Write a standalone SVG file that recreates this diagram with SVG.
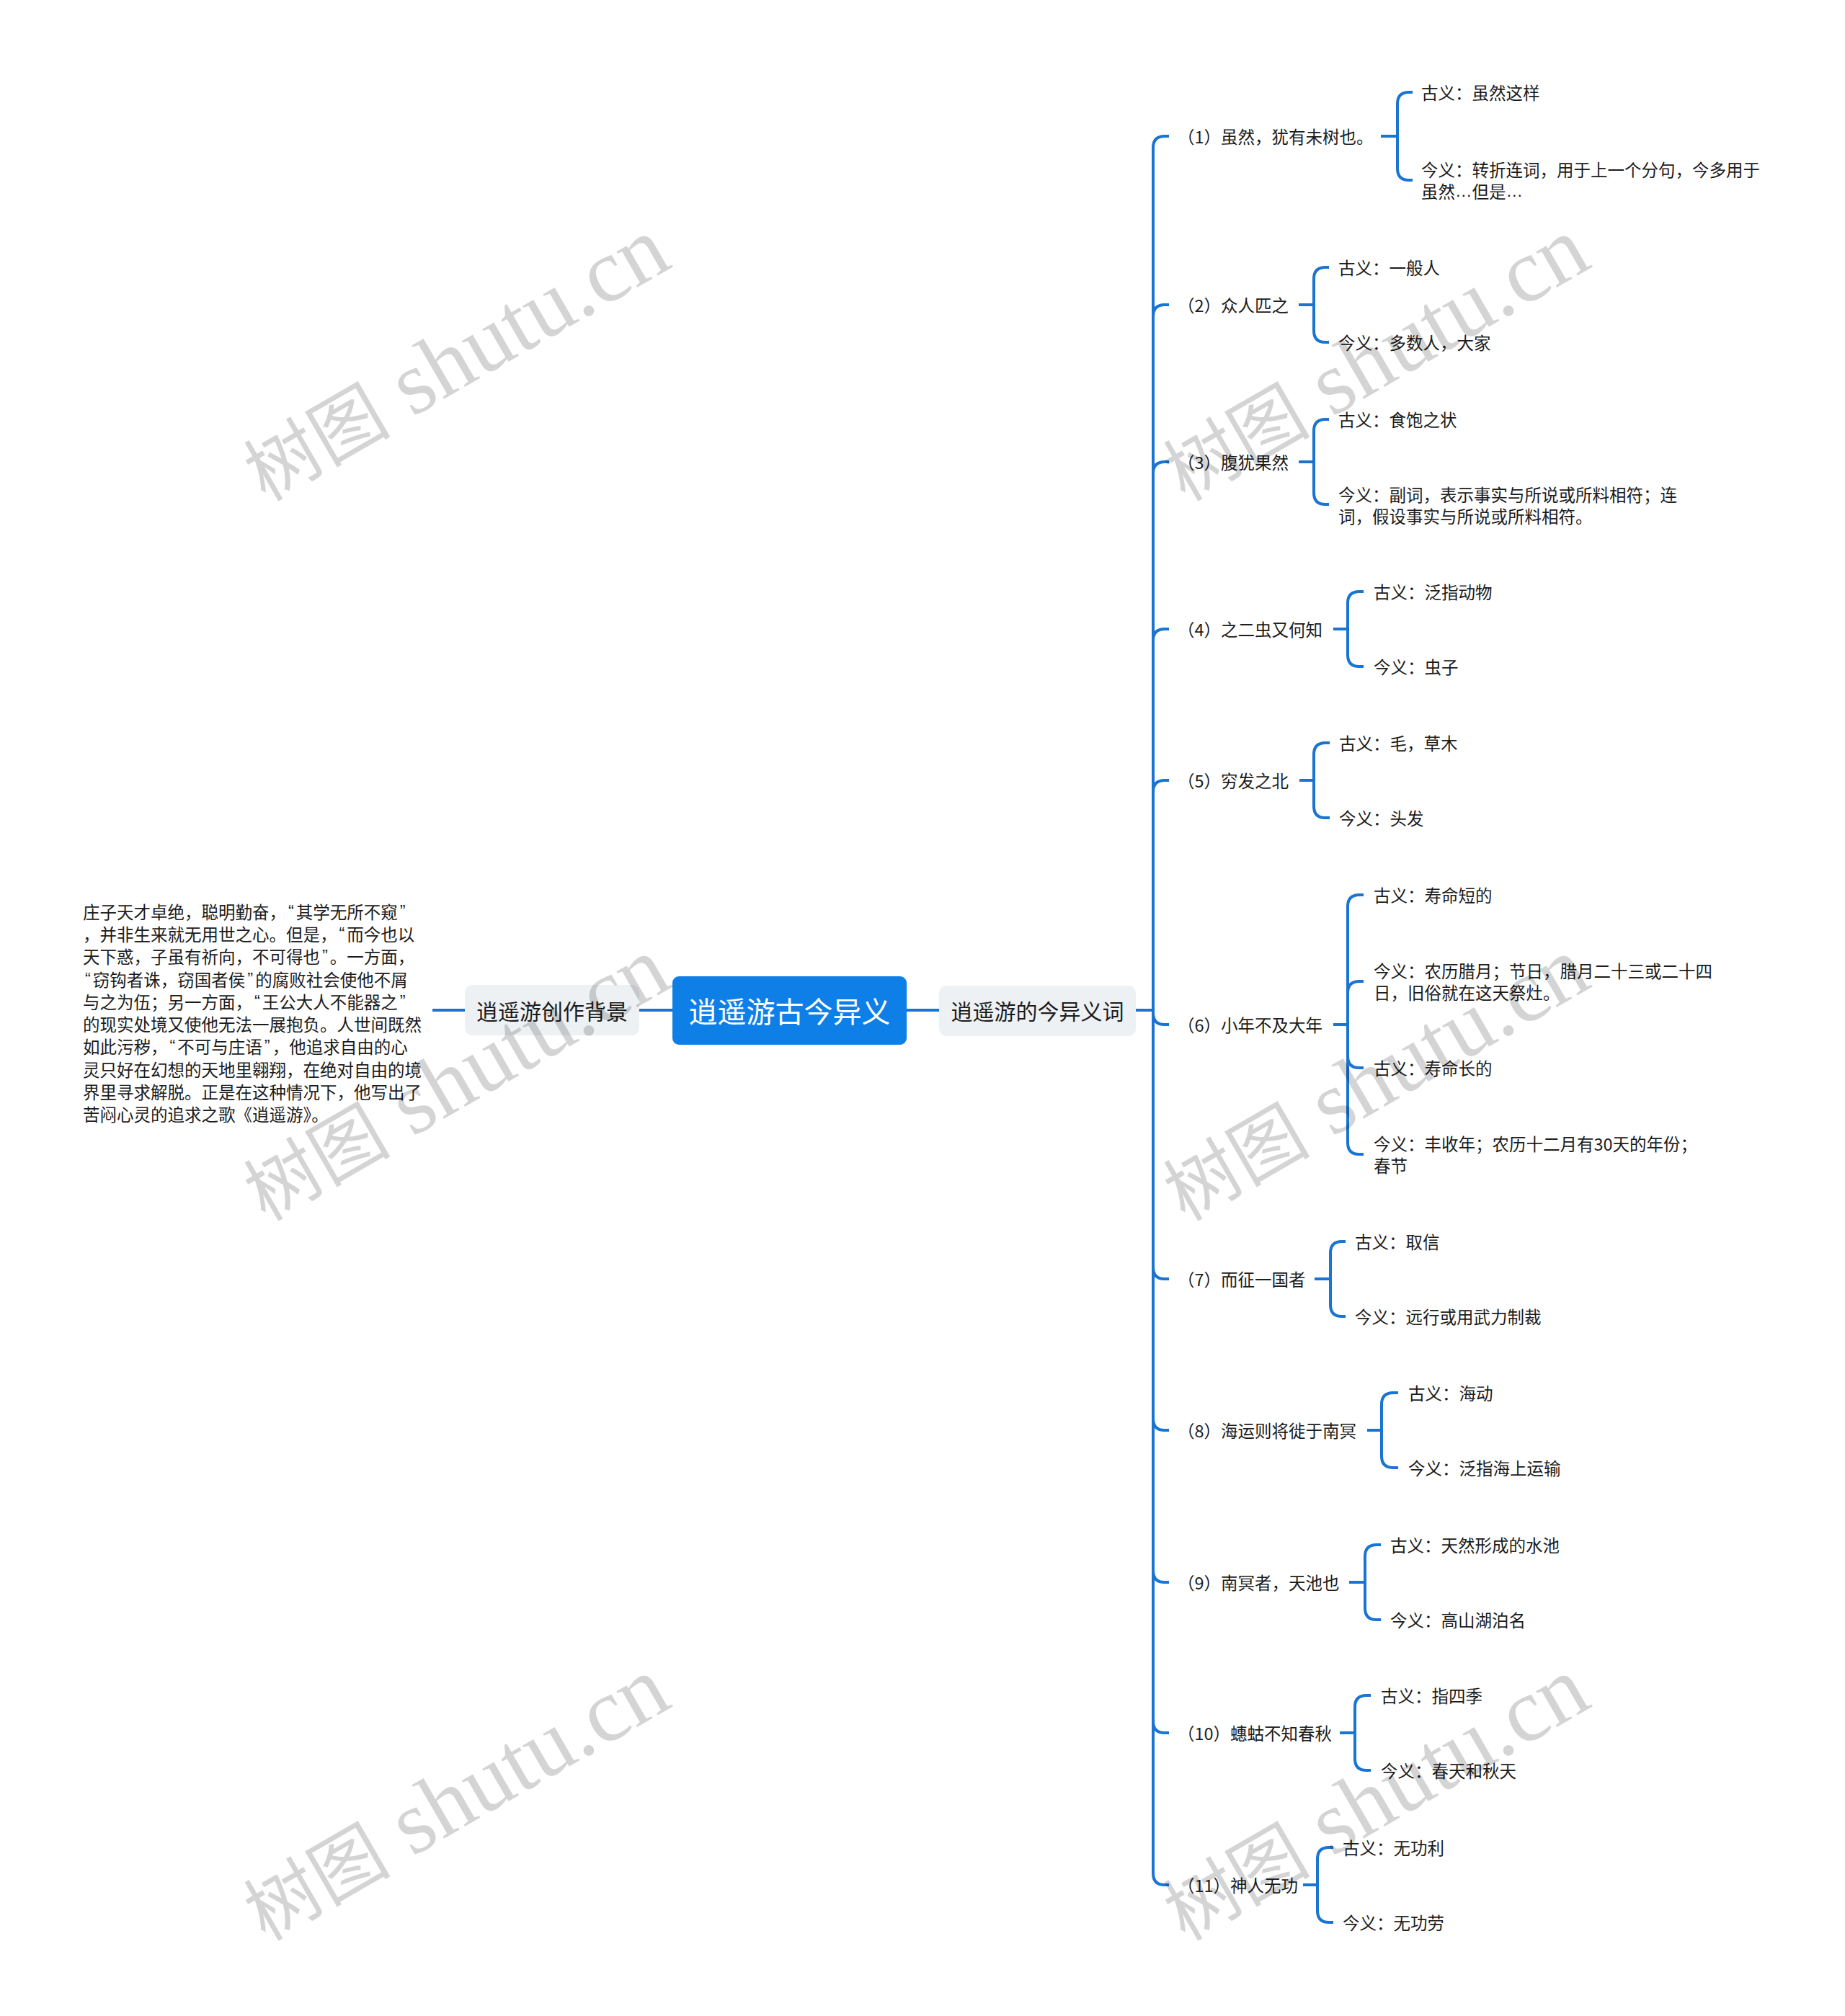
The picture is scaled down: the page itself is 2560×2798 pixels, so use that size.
<svg xmlns="http://www.w3.org/2000/svg" width="2560" height="2798" viewBox="0 0 2560 2798">
<style>
.ln{fill:none;stroke:#1a74d1;stroke-width:4}
.t{font-family:"Noto Sans CJK SC","Noto Sans",sans-serif;font-size:23.5px;fill:#1c1c1c;dominant-baseline:central}
.q{font-family:"Liberation Sans",sans-serif}
.qq{font-family:"Liberation Sans",sans-serif;letter-spacing:3px}
.n2{font-family:"Noto Sans CJK SC","Noto Sans",sans-serif;font-size:30px;fill:#1c1c1c;dominant-baseline:central;text-anchor:middle}
.wm{font-family:"Liberation Serif","Noto Sans CJK SC",serif;font-size:125px;fill:#000;fill-opacity:0.17}
.wc{font-family:"Noto Sans CJK SC",serif;font-size:102px}
</style>
<rect width="2560" height="2798" fill="#ffffff"/>
<g id="connectors">
<path class="ln" d="M933,1402 H887 M645,1402 H600 M1258,1402 H1303 M1576,1402 H1600"/>
<path class="ln" d="M1600,1402 V205 Q1600,189 1616,189 H1622"/>
<path class="ln" d="M1600,1402 V439 Q1600,423 1616,423 H1622"/>
<path class="ln" d="M1600,1402 V657 Q1600,641 1616,641 H1622"/>
<path class="ln" d="M1600,1402 V889 Q1600,873 1616,873 H1622"/>
<path class="ln" d="M1600,1402 V1099 Q1600,1083 1616,1083 H1622"/>
<path class="ln" d="M1600,1402 V1406 Q1600,1422 1616,1422 H1622"/>
<path class="ln" d="M1600,1402 V1759 Q1600,1775 1616,1775 H1622"/>
<path class="ln" d="M1600,1402 V1969 Q1600,1985 1616,1985 H1622"/>
<path class="ln" d="M1600,1402 V2180 Q1600,2196 1616,2196 H1622"/>
<path class="ln" d="M1600,1402 V2389 Q1600,2405 1616,2405 H1622"/>
<path class="ln" d="M1600,1402 V2600 Q1600,2616 1616,2616 H1622"/>
<path class="ln" d="M1916,189 H1939 M1939,189 V144 Q1939,128 1955,128 H1960 M1939,189 V234 Q1939,250 1955,250 H1960"/>
<path class="ln" d="M1802,423 H1823 M1823,423 V387 Q1823,371 1839,371 H1844 M1823,423 V459 Q1823,475 1839,475 H1844"/>
<path class="ln" d="M1802,641 H1823 M1823,641 V598 Q1823,582 1839,582 H1844 M1823,641 V684 Q1823,700 1839,700 H1844"/>
<path class="ln" d="M1850,873 H1870 M1870,873 V837 Q1870,821 1886,821 H1892 M1870,873 V909 Q1870,925 1886,925 H1892"/>
<path class="ln" d="M1803,1083 H1823 M1823,1083 V1047 Q1823,1031 1839,1031 H1845 M1823,1083 V1119 Q1823,1135 1839,1135 H1845"/>
<path class="ln" d="M1850,1422 H1870 M1870,1422 V1258 Q1870,1242 1886,1242 H1892 M1870,1422 V1378 Q1870,1362 1886,1362 H1892 M1870,1422 V1466 Q1870,1482 1886,1482 H1892 M1870,1422 V1586 Q1870,1602 1886,1602 H1892"/>
<path class="ln" d="M1824,1775 H1846 M1846,1775 V1739 Q1846,1723 1862,1723 H1867 M1846,1775 V1811 Q1846,1827 1862,1827 H1867"/>
<path class="ln" d="M1897,1985 H1917 M1917,1985 V1949 Q1917,1933 1933,1933 H1940 M1917,1985 V2021 Q1917,2037 1933,2037 H1940"/>
<path class="ln" d="M1872,2196 H1894 M1894,2196 V2160 Q1894,2144 1910,2144 H1916 M1894,2196 V2232 Q1894,2248 1910,2248 H1916"/>
<path class="ln" d="M1859,2405 H1880 M1880,2405 V2369 Q1880,2353 1896,2353 H1902 M1880,2405 V2441 Q1880,2457 1896,2457 H1902"/>
<path class="ln" d="M1808,2616 H1828 M1828,2616 V2580 Q1828,2564 1844,2564 H1850 M1828,2616 V2652 Q1828,2668 1844,2668 H1850"/>
</g>
<g id="root">
<rect x="933" y="1355" width="325" height="95" rx="9" fill="#0f7fe8"/>
<text x="1095.5" y="1402" font-family="Noto Sans CJK SC, sans-serif" font-size="40" fill="#ffffff" text-anchor="middle" dominant-baseline="central">逍遥游古今异义</text>
</g>
<g id="node-bg">
<rect x="645" y="1367" width="242" height="70" rx="10" fill="#eef1f4"/>
<text class="n2" x="766" y="1402">逍遥游创作背景</text>
</g>
<g id="node-bg-text">
<text class="t" x="115" y="1265">庄子天才卓绝，聪明勤奋，<tspan class="qq" dx="3">“</tspan>其学无所不窥<tspan class="qq" dx="3">”</tspan></text>
<text class="t" x="115" y="1296">，并非生来就无用世之心。但是，<tspan class="qq" dx="3">“</tspan>而今也以</text>
<text class="t" x="115" y="1327">天下惑，子虽有祈向，不可得也<tspan class="qq" dx="3">”</tspan>。一方面，</text>
<text class="t" x="115" y="1359"><tspan class="qq" dx="3">“</tspan>窃钩者诛，窃国者侯<tspan class="qq" dx="3">”</tspan>的腐败社会使他不屑</text>
<text class="t" x="115" y="1390">与之为伍；另一方面，<tspan class="qq" dx="3">“</tspan>王公大人不能器之<tspan class="qq" dx="3">”</tspan></text>
<text class="t" x="115" y="1421">的现实处境又使他无法一展抱负。人世间既然</text>
<text class="t" x="115" y="1452">如此污秽，<tspan class="qq" dx="3">“</tspan>不可与庄语<tspan class="qq" dx="3">”</tspan>，他追求自由的心</text>
<text class="t" x="115" y="1484">灵只好在幻想的天地里翱翔，在绝对自由的境</text>
<text class="t" x="115" y="1515">界里寻求解脱。正是在这种情况下，他写出了</text>
<text class="t" x="115" y="1546">苦闷心灵的追求之歌《逍遥游》。</text>
</g>
<g id="node-words">
<rect x="1303" y="1368" width="273" height="70" rx="10" fill="#eef1f4"/>
<text class="n2" x="1439.5" y="1402">逍遥游的今异义词</text>
</g>
<g id="b1">
<text class="t" x="1634" y="189">（1）虽然，犹有未树也。</text>
<text class="t" x="1972" y="128">古义：虽然这样</text>
<text class="t" x="1972" y="235">今义：转折连词，用于上一个分句，今多用于</text>
<text class="t" x="1972" y="265">虽然<tspan class="q">…</tspan>但是<tspan class="q">…</tspan></text>
</g>
<g id="b2">
<text class="t" x="1634" y="423">（2）众人匹之</text>
<text class="t" x="1857" y="371">古义：一般人</text>
<text class="t" x="1857" y="475">今义：多数人，大家</text>
</g>
<g id="b3">
<text class="t" x="1634" y="641">（3）腹犹果然</text>
<text class="t" x="1857" y="582">古义：食饱之状</text>
<text class="t" x="1857" y="686">今义：副词，表示事实与所说或所料相符；连</text>
<text class="t" x="1857" y="716">词，假设事实与所说或所料相符。</text>
</g>
<g id="b4">
<text class="t" x="1634" y="873">（4）之二虫又何知</text>
<text class="t" x="1906" y="821">古义：泛指动物</text>
<text class="t" x="1906" y="925">今义：虫子</text>
</g>
<g id="b5">
<text class="t" x="1634" y="1083">（5）穷发之北</text>
<text class="t" x="1858" y="1031">古义：毛，草木</text>
<text class="t" x="1858" y="1135">今义：头发</text>
</g>
<g id="b6">
<text class="t" x="1634" y="1422">（6）小年不及大年</text>
<text class="t" x="1906" y="1242">古义：寿命短的</text>
<text class="t" x="1906" y="1347">今义：农历腊月；节日，腊月二十三或二十四</text>
<text class="t" x="1906" y="1377">日，旧俗就在这天祭灶。</text>
<text class="t" x="1906" y="1482">古义：寿命长的</text>
<text class="t" x="1906" y="1587">今义：丰收年；农历十二月有30天的年份；</text>
<text class="t" x="1906" y="1617">春节</text>
</g>
<g id="b7">
<text class="t" x="1634" y="1775">（7）而征一国者</text>
<text class="t" x="1880" y="1723">古义：取信</text>
<text class="t" x="1880" y="1827">今义：远行或用武力制裁</text>
</g>
<g id="b8">
<text class="t" x="1634" y="1985">（8）海运则将徙于南冥</text>
<text class="t" x="1954" y="1933">古义：海动</text>
<text class="t" x="1954" y="2037">今义：泛指海上运输</text>
</g>
<g id="b9">
<text class="t" x="1634" y="2196">（9）南冥者，天池也</text>
<text class="t" x="1929" y="2144">古义：天然形成的水池</text>
<text class="t" x="1929" y="2248">今义：高山湖泊名</text>
</g>
<g id="b10">
<text class="t" x="1634" y="2405">（10）蟪蛄不知春秋</text>
<text class="t" x="1916" y="2353">古义：指四季</text>
<text class="t" x="1916" y="2457">今义：春天和秋天</text>
</g>
<g id="b11">
<text class="t" x="1634" y="2616">（11）神人无功</text>
<text class="t" x="1863" y="2564">古义：无功利</text>
<text class="t" x="1863" y="2668">今义：无功劳</text>
</g>
<g id="watermarks">
<text class="wm" transform="translate(368,697) rotate(-30)"><tspan class="wc">树图</tspan> shutu.cn</text>
<text class="wm" transform="translate(1644,697) rotate(-30)"><tspan class="wc">树图</tspan> shutu.cn</text>
<text class="wm" transform="translate(368,1696) rotate(-30)"><tspan class="wc">树图</tspan> shutu.cn</text>
<text class="wm" transform="translate(1644,1696) rotate(-30)"><tspan class="wc">树图</tspan> shutu.cn</text>
<text class="wm" transform="translate(368,2695) rotate(-30)"><tspan class="wc">树图</tspan> shutu.cn</text>
<text class="wm" transform="translate(1644,2695) rotate(-30)"><tspan class="wc">树图</tspan> shutu.cn</text>
</g>
</svg>
